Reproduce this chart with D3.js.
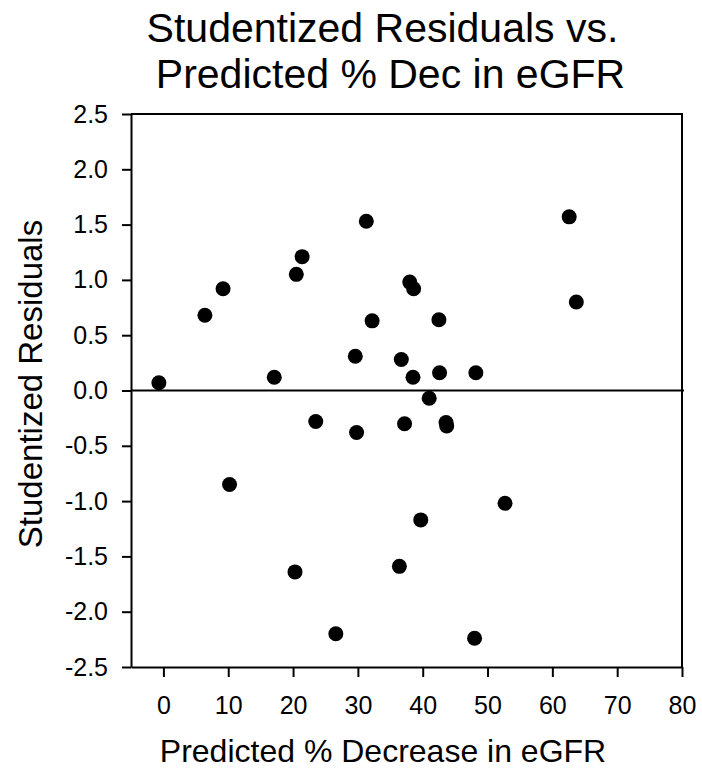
<!DOCTYPE html>
<html>
<head>
<meta charset="utf-8">
<script src="https://cdn.jsdelivr.net/npm/d3@7"></script>
<style>
    body { margin: 0; background: #fff; }
    svg { display: block; font-family: "Liberation Sans", Arial, sans-serif; }
</style>
</head>
<body>
<script>
// Predicted % decrease in eGFR (x) vs studentized residual (y)
const predicted = [-0.7, 6.4, 9.2, 10.2, 17.1, 20.3, 20.5, 21.4, 23.5, 26.6,
                   29.6, 29.8, 31.3, 32.2, 36.4, 36.7, 37.2, 38.0, 38.6, 38.5,
                   39.7, 41.0, 42.5, 42.6, 43.6, 43.7, 48.0, 48.2, 52.7, 62.6, 63.7];
const residuals = [0.07, 0.68, 0.92, -0.85, 0.12, -1.64, 1.05, 1.21, -0.28, -2.20,
                   0.31, -0.38, 1.53, 0.63, -1.59, 0.28, -0.30, 0.98, 0.92, 0.12,
                   -1.17, -0.07, 0.64, 0.16, -0.29, -0.32, -2.24, 0.16, -1.02, 1.57, 0.80];
const xTicks = [0, 10, 20, 30, 40, 50, 60, 70, 80];
const yTicks = [-2.5, -2.0, -1.5, -1.0, -0.5, 0.0, 0.5, 1.0, 1.5, 2.0, 2.5];
const titleLines = ["Studentized Residuals vs.", "Predicted % Dec in eGFR"];

const WIDTH = 702, HEIGHT = 771;
const LEFT = 131, RIGHT = 682, TOP = 114, BOTTOM = 667;

const svg = d3.select("body").append("svg")
              .attr("width", WIDTH)
              .attr("height", HEIGHT);

const xScale = d3.scaleLinear().domain([-5, 80]).range([LEFT, RIGHT]);
const yScale = d3.scaleLinear().domain([-2.5, 2.5]).range([BOTTOM, TOP]);

const styleAxis = (g, size) => {
    g.selectAll("path, line").attr("stroke", "#000").attr("stroke-width", 2);
    g.selectAll("text").attr("fill", "#000").style("font-size", size + "px")
     .style("font-family", "'Liberation Sans', Arial, sans-serif");
}

// x axis
svg.append("g")
   .attr("transform", "translate(0," + BOTTOM + ")")
   .call(d3.axisBottom(xScale).tickValues(xTicks).tickSize(10).tickSizeOuter(0)
           .tickPadding(19).tickFormat(d3.format("d")))
   .call(g => styleAxis(g, 25));

// y axis
svg.append("g")
   .attr("transform", "translate(" + LEFT + ",0)")
   .call(d3.axisLeft(yScale).tickValues(yTicks).tickSize(9).tickSizeOuter(0)
           .tickPadding(14).tickFormat(d => d.toFixed(1)))
   .call(g => styleAxis(g, 25));

// frame top + right
svg.append("path")
   .attr("d", "M" + LEFT + "," + TOP + "H" + RIGHT + "V" + BOTTOM)
   .attr("fill", "none")
   .attr("stroke", "#000")
   .attr("stroke-width", 2);

// zero reference line
svg.append("line")
   .attr("x1", LEFT).attr("x2", RIGHT + 2)
   .attr("y1", yScale(0)).attr("y2", yScale(0))
   .attr("stroke", "#000")
   .attr("stroke-width", 2);

// dots
svg.selectAll("circle.dot")
   .data(predicted.map((p, i) => [p, residuals[i]]))
   .enter()
   .append("circle")
   .attr("class", "dot")
   .attr("cx", d => xScale(d[0]))
   .attr("cy", d => yScale(d[1]))
   .attr("r", 7.5)
   .attr("fill", "#000");

// title
svg.selectAll("text.title")
   .data(titleLines)
   .enter()
   .append("text")
   .attr("class", "title")
   .attr("x", (d, i) => i == 0 ? 382.5 : 390.5)
   .attr("y", (d, i) => 42 + i * 46)
   .attr("text-anchor", "middle")
   .style("font-size", "41px")
   .text(d => d);

svg.append("text")
   .attr("x", 383)
   .attr("y", 762)
   .attr("text-anchor", "middle")
   .style("font-size", "32px")
   .text("Predicted % Decrease in eGFR");

svg.append("text")
   .attr("transform", "translate(41.5,384) rotate(-90)")
   .attr("text-anchor", "middle")
   .style("font-size", "33px")
   .text("Studentized Residuals");
</script>
</body>
</html>
